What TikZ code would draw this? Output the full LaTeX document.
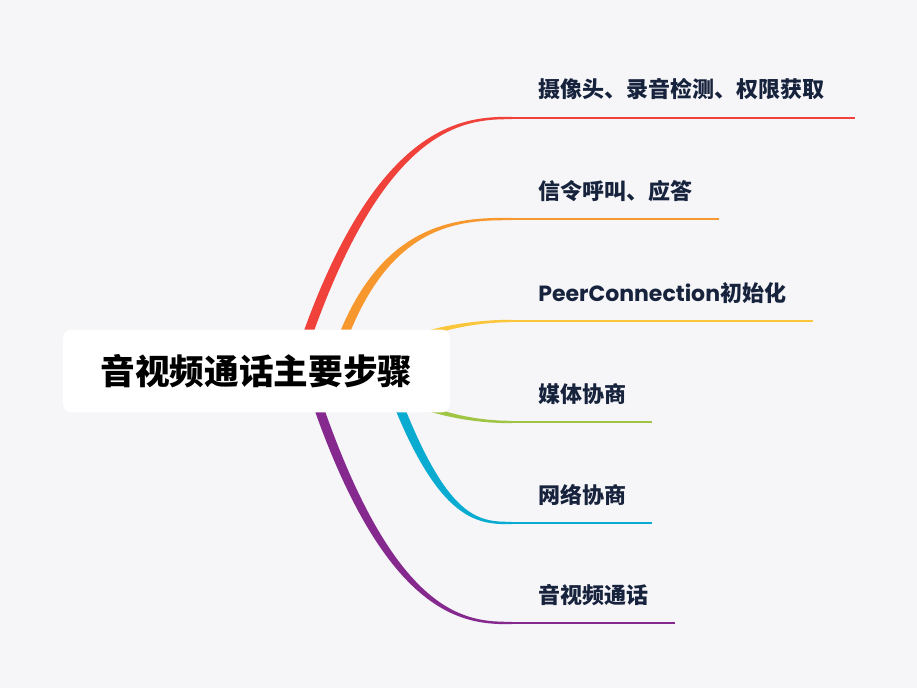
\documentclass[tikz,border=0pt]{standalone}
\usepackage{fontspec}
\setmainfont{Noto Sans CJK SC}
\newfontfamily\latinfont{Poppins}
\usetikzlibrary{calc,positioning}
\definecolor{bgcol}{RGB}{246,246,249}
\definecolor{brred}{RGB}{240,66,58}
\definecolor{brorange}{RGB}{247,152,46}
\definecolor{bryellow}{RGB}{252,198,58}
\definecolor{brgreen}{RGB}{160,197,68}
\definecolor{brblue}{RGB}{10,171,209}
\definecolor{brpurple}{RGB}{133,41,143}
\definecolor{leaftext}{RGB}{23,35,61}

\begin{document}
\begin{tikzpicture}[x=0.75pt,y=-0.75pt,
rootbox/.style={fill=white,rounded corners=6pt,minimum width=290pt,minimum height=62pt,inner sep=0pt,font=\bfseries\fontsize{26}{30}\selectfont},
leaf/.style={anchor=west,inner sep=0pt,text=leaftext,font=\bfseries\fontsize{16.5}{20}\selectfont}]
\fill[bgcol] (0,0) rectangle (917,688);
% tapered branches
\foreach \n/\col/\sx/\sy/\cx/\cy/\dx/\ey/\fx/\w in {1/brred/297/366/377/118/467/118/855/3.6pt,
  2/brorange/333/366/378/219/460/219/719/3.6pt,
  3/bryellow/360/362/395/343/445/321/813/3.4pt,
  4/brgreen/360/374/395/398/445/422/652/3.4pt,
  5/brblue/384/366/439/523/477/523/652/3.6pt,
  6/brpurple/305/366/385/623/467/623/675/3.6pt}
{\coordinate (s\n) at (\sx,\sy);
 \coordinate (c\n) at (\cx,\cy);
 \coordinate (d\n) at (\dx,\ey);
 \coordinate (e\n) at (512,\ey);
 \coordinate (f\n) at (\fx,\ey);
 \fill[\col] ($(s\n)!\w!90:(c\n)$) .. controls ($(c\n)!\w!-90:(s\n)$) and ($(d\n)!0.9pt!90:(e\n)$) .. ($(e\n)!0.9pt!-90:(d\n)$)
   -- ($(e\n)!0.9pt!90:(d\n)$) .. controls ($(d\n)!0.9pt!-90:(e\n)$) and ($(c\n)!\w!90:(s\n)$) .. ($(s\n)!\w!-90:(c\n)$) -- cycle;
 \draw[\col,line width=1.75pt] (e\n) -- (f\n);}
\node[rootbox] (root) at (256.5,371) {音视频通话主要步骤};
\node[leaf] (l1) at (538,89.5) {摄像头、录音检测、权限获取};
\node[leaf] (l2) at (538,191.5) {信令呼叫、应答};
\node[leaf] (l3) at (538,293) {{\latinfont PeerConnection}初始化};
\node[leaf] (l4) at (538,394) {媒体协商};
\node[leaf] (l5) at (538,494.5) {网络协商};
\node[leaf] (l6) at (538,595) {音视频通话};
\end{tikzpicture}
\end{document}
